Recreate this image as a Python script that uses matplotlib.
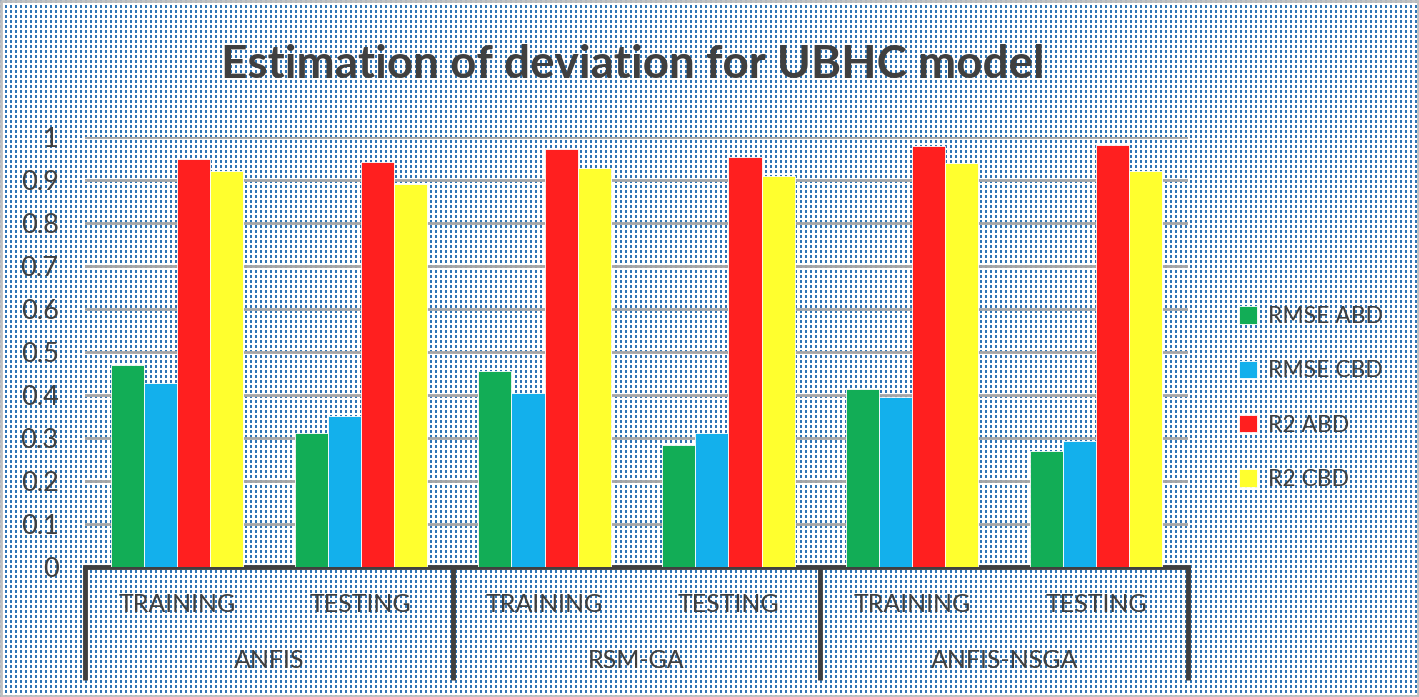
import numpy as np
import matplotlib
matplotlib.use('Agg')
import matplotlib.pyplot as plt
import matplotlib.transforms as mtransforms

plt.rcParams['font.family'] = ['Lato', 'DejaVu Sans']

groups = ['ANFIS', 'RSM-GA', 'ANFIS-NSGA']
phases = ['TRAINING', 'TESTING']
series = ['RMSE ABD', 'RMSE CBD', 'R2 ABD', 'R2 CBD']
rmse_abd = [0.47, 0.312, 0.456, 0.283, 0.413, 0.27]
rmse_cbd = [0.428, 0.351, 0.405, 0.311, 0.396, 0.293]
r2_abd = [0.949, 0.942, 0.971, 0.954, 0.979, 0.981]
r2_cbd = [0.921, 0.89, 0.927, 0.909, 0.939, 0.922]
colors = ['#12AD56', '#13B0EC', '#FF1F1F', '#FFFF2E']

W, H = 1419, 697
fig = plt.figure(figsize=(W / 100, H / 100), dpi=100)

# dotted blue background texture
tex = np.ones((H, W, 3))
yy, xx = np.mgrid[0:H, 0:W]
dots = ((xx % 5) < 2) & ((yy % 5) < 3)
tex[dots] = np.array([0x2E, 0x75, 0xB6]) / 255
bg = fig.add_axes([0, 0, 1, 1], zorder=-10)
bg.imshow(tex, aspect='auto', interpolation='nearest')
bg.axis('off')
fig.patches.append(plt.Rectangle((0.0005, 0.001), 0.999, 0.998, transform=fig.transFigure,
                                 fill=False, edgecolor='#BFBFBF', linewidth=2))

ax = fig.add_axes([85 / W, 1 - 567 / H, (1188 - 85) / W, (567 - 137) / H])
ax.patch.set_alpha(0)

data = [rmse_abd, rmse_cbd, r2_abd, r2_cbd]
x = np.arange(6)
bw = 0.18
for i, (vals, c, name) in enumerate(zip(data, colors, series)):
    ax.bar(x + (i - 1.5) * bw, vals, bw, color=c, edgecolor='#FFFFFF', linewidth=0.6,
           label=name, zorder=3)

ax.set_xlim(-0.5, 5.5)
ax.set_ylim(0, 1)
ax.set_yticks(np.arange(0, 1.01, 0.1))
ax.set_yticklabels(['0', '0.1', '0.2', '0.3', '0.4', '0.5', '0.6', '0.7', '0.8', '0.9', '1'])
ax.tick_params(axis='y', length=0, pad=19, labelsize=19.5, labelcolor='#404040')
ax.tick_params(axis='x', length=0)
ax.set_xticks([])
ax.yaxis.grid(True, color='#A6A6A6', linewidth=2, zorder=0)
for s in ['top', 'right', 'left']:
    ax.spines[s].set_visible(False)
ax.spines['bottom'].set_color('#404040')
ax.spines['bottom'].set_linewidth(3.5)

# multi-level category axis
trans = mtransforms.blended_transform_factory(ax.transData, ax.transAxes)
for k in range(6):
    ax.text(x[k], -0.088, phases[k % 2], transform=trans, ha='center', va='center',
            fontsize=18, color='#404040')
for g in range(3):
    ax.text(2 * g + 0.5, -0.218, groups[g], transform=trans, ha='center', va='center',
            fontsize=18, color='#404040')
for b in [-0.5, 1.5, 3.5, 5.5]:
    ax.plot([b, b], [0, -0.263], transform=trans, color='#404040', linewidth=3.5,
            clip_on=False, solid_capstyle='butt')

fig.text(633 / W, 1 - 78 / H, 'Estimation of deviation for UBHC model', ha='center',
         va='baseline', fontsize=33, fontweight='bold', color='#404040')

leg = fig.legend(loc='center left', bbox_to_anchor=(1218 / W, 1 - 398 / H), frameon=False,
                 fontsize=16.5, labelspacing=1.45, handlelength=0.8, handleheight=0.8,
                 handletextpad=0.5)
for t in leg.get_texts():
    t.set_color('#404040')

fig.savefig('out.png', dpi=100)
